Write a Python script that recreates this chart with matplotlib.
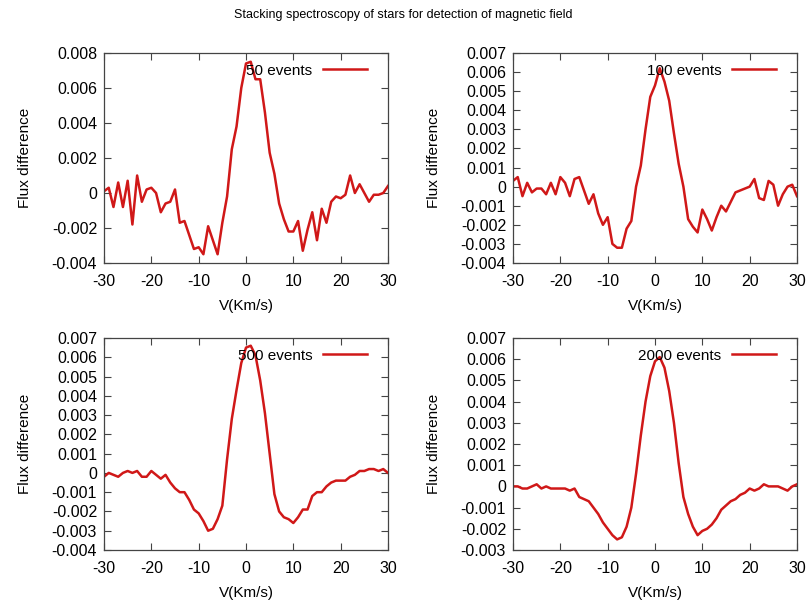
import numpy as np
import matplotlib
matplotlib.use("Agg")
import matplotlib.pyplot as plt

plt.rcParams['font.family'] = ['Liberation Sans', 'DejaVu Sans']
plt.rcParams['axes.unicode_minus'] = False

# velocity grid (km/s)
v = np.arange(-30, 31)

flux_50 = [0.0001, 0.0003, -0.0008, 0.0006, -0.0008, 0.0007, -0.0018, 0.0010, -0.0005, 0.0002,
           0.0003, 0.0000, -0.0011, -0.0006, -0.0005, 0.0002, -0.0017, -0.0016, -0.0024, -0.0032,
           -0.0031, -0.0035, -0.0019, -0.0027, -0.0035, -0.0017, -0.0002, 0.0025, 0.0038, 0.0060,
           0.0074, 0.0075, 0.0065, 0.0065, 0.0046, 0.0023, 0.0011, -0.0006, -0.0015, -0.0022,
           -0.0022, -0.0016, -0.0033, -0.0021, -0.0011, -0.0027, -0.0009, -0.0017, -0.0005, -0.0002,
           -0.0003, -0.0001, 0.0010, 0.0000, 0.0005, 0.0000, -0.0005, -0.0001, -0.0001, 0.0000,
           0.0004]

flux_100 = [0.0003, 0.0005, -0.0005, 0.0002, -0.0003, -0.0001, -0.0001, -0.0004, 0.0002, -0.0004,
            0.0005, 0.0002, -0.0005, 0.0004, 0.0005, -0.0002, -0.0009, -0.0004, -0.0014, -0.0020,
            -0.0016, -0.0030, -0.0032, -0.0032, -0.0022, -0.0018, 0.0000, 0.0011, 0.0030, 0.0047,
            0.0053, 0.0062, 0.0055, 0.0045, 0.0028, 0.0012, 0.0000, -0.0017, -0.0021, -0.0024,
            -0.0012, -0.0017, -0.0023, -0.0016, -0.0010, -0.0013, -0.0008, -0.0003, -0.0002, -0.0001,
            0.0000, 0.0004, -0.0006, -0.0007, 0.0003, 0.0001, -0.0010, -0.0004, 0.0000, 0.0001,
            -0.0005]

flux_500 = [-0.0002, 0.0000, -0.0001, -0.0002, 0.0000, 0.0001, 0.0000, 0.0001, -0.0002, -0.0002,
            0.0001, -0.0001, -0.0003, -0.0001, -0.0005, -0.0008, -0.0010, -0.0010, -0.0014, -0.0019,
            -0.0021, -0.0025, -0.0030, -0.0029, -0.0024, -0.0017, 0.0007, 0.0028, 0.0043, 0.0057,
            0.0065, 0.0066, 0.0061, 0.0048, 0.0031, 0.0010, -0.0011, -0.0020, -0.0023, -0.0024,
            -0.0026, -0.0023, -0.0019, -0.0019, -0.0012, -0.0010, -0.0010, -0.0007, -0.0005, -0.0004,
            -0.0004, -0.0004, -0.0002, -0.0001, 0.0001, 0.0001, 0.0002, 0.0002, 0.0001, 0.0002,
            0.0000]

flux_2000 = [0.0000, 0.0000, -0.0001, -0.0001, 0.0000, 0.0001, -0.0001, 0.0000, -0.0001, -0.0001,
             -0.0001, -0.0001, -0.0002, -0.0001, -0.0005, -0.0006, -0.0007, -0.0010, -0.0013, -0.0017,
             -0.0020, -0.0023, -0.0025, -0.0024, -0.0019, -0.0010, 0.0006, 0.0024, 0.0040, 0.0052,
             0.0059, 0.0061, 0.0056, 0.0045, 0.0030, 0.0011, -0.0005, -0.0013, -0.0019, -0.0023,
             -0.0021, -0.0020, -0.0018, -0.0015, -0.0011, -0.0009, -0.0007, -0.0006, -0.0004, -0.0003,
             -0.0001, -0.0002, -0.0001, 0.0001, 0.0000, 0.0000, 0.0000, -0.0001, -0.0002, 0.0000,
             0.0001]

labels = ["50 events", "100 events", "500 events", "2000 events"]
series = [flux_50, flux_100, flux_500, flux_2000]
ylims = [(-0.004, 0.008), (-0.004, 0.007), (-0.004, 0.007), (-0.003, 0.007)]
ysteps = [0.002, 0.001, 0.001, 0.001]

# axes boxes in pixels: left, top, right, bottom
boxes = [(104, 53, 388, 263), (513, 53, 797, 263),
         (104, 338, 388, 550), (513, 338, 797, 550)]

W, H = 806, 602
fig = plt.figure(figsize=(W / 100, H / 100), dpi=100)
fig.text(0.5, 1 - 15 / H, "Stacking spectroscopy of stars for detection of magnetic field",
         ha='center', va='center', fontsize=9)

for (l, t, r, b), lab, y, yl, ys in zip(boxes, labels, series, ylims, ysteps):
    ax = fig.add_axes([l / W, 1 - b / H, (r - l) / W, (b - t) / H])
    ax.plot(v, y, color='#d01818', lw=1.8, label=lab)
    ax.set_xlim(-30, 30)
    ax.set_ylim(*yl)
    ax.set_xticks(np.arange(-30, 31, 10))
    yt = np.round(np.arange(yl[0], yl[1] + ys / 2, ys), 4)
    ax.set_yticks(yt)
    ax.set_yticklabels(["0" if abs(a) < 1e-9 else f"{a:.3f}" for a in yt])
    ax.tick_params(direction='in', top=True, right=True, length=5, width=0.8,
                   color='#444444', labelsize=11.5)
    ax.tick_params(axis='x', pad=8)
    ax.tick_params(axis='y', pad=5)
    for s in ax.spines.values():
        s.set_color('#444444')
        s.set_linewidth(0.9)
    ax.set_xlabel("V(Km/s)", fontsize=11, labelpad=7)
    ax.set_ylabel("Flux difference", fontsize=11, labelpad=14)
    ax.legend(loc='upper right', bbox_to_anchor=(0.965, 1.0), frameon=False,
              markerfirst=False, handlelength=2.9, fontsize=11,
              borderaxespad=0.3, handletextpad=0.7)

plt.savefig("out.png", dpi=100)
